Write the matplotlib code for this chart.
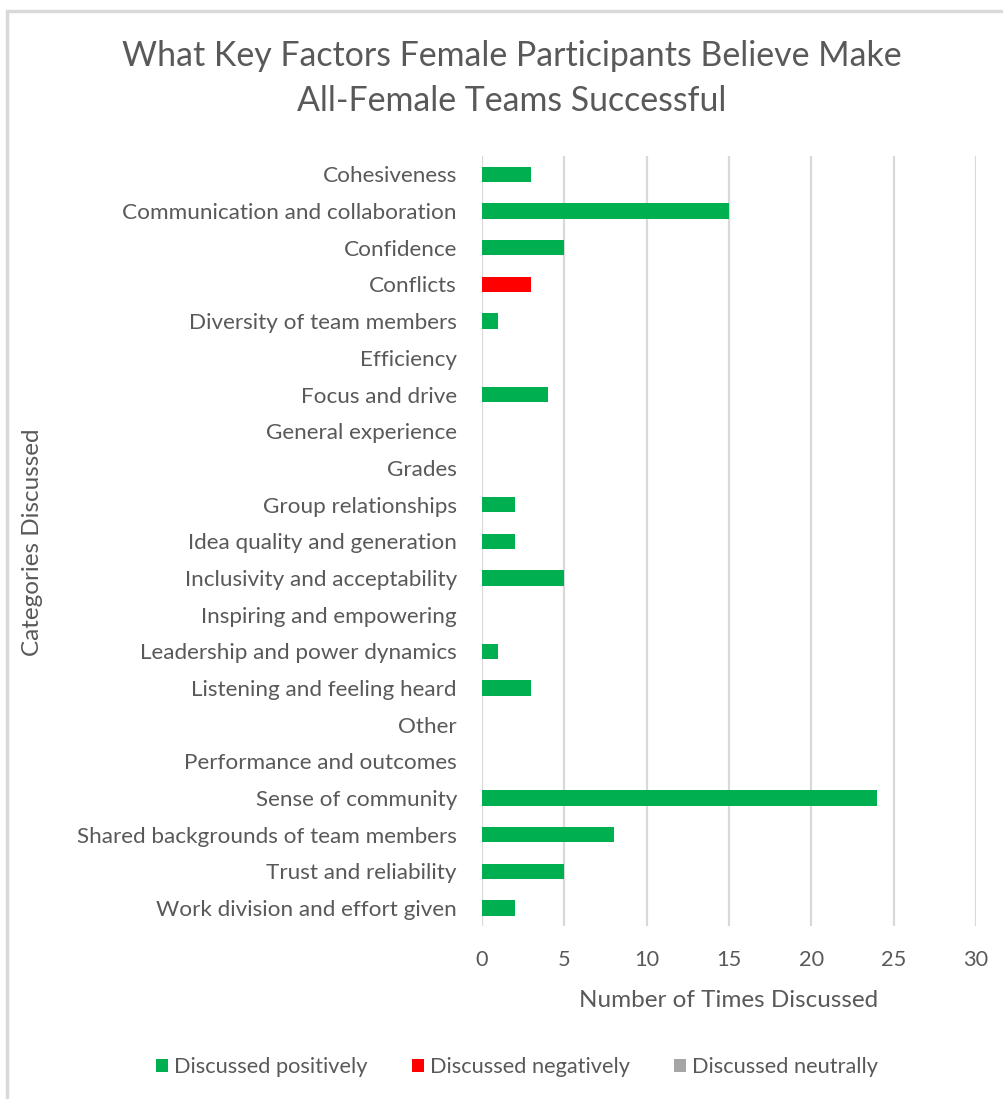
import matplotlib
matplotlib.use("Agg")
import matplotlib.pyplot as plt
import numpy as np

plt.rcParams["font.family"] = ["Lato", "DejaVu Sans"]

# categories, top to bottom
categories = [
    "Cohesiveness",
    "Communication and collaboration",
    "Confidence",
    "Conflicts",
    "Diversity of team members",
    "Efficiency",
    "Focus and drive",
    "General experience",
    "Grades",
    "Group relationships",
    "Idea quality and generation",
    "Inclusivity and acceptability",
    "Inspiring and empowering",
    "Leadership and power dynamics",
    "Listening and feeling heard",
    "Other",
    "Performance and outcomes",
    "Sense of community",
    "Shared backgrounds of team members",
    "Trust and reliability",
    "Work division and effort given",
]
positive = [3, 15, 5, 0, 1, 0, 4, 0, 0, 2, 2, 5, 0, 1, 3, 0, 0, 24, 8, 5, 2]
negative = [0, 0, 0, 3, 0, 0, 0, 0, 0, 0, 0, 0, 0, 0, 0, 0, 0, 0, 0, 0, 0]
neutral = [0] * len(categories)

xticks = [0, 5, 10, 15, 20, 25, 30]

text_col = "#595959"
grid_col = "#D9D9D9"

fig = plt.figure(figsize=(10.04, 10.99), dpi=100)
ax = fig.add_axes([0.480, 0.157, 0.492, 0.701])

y = np.arange(len(categories))
pos = np.array(positive)
neg = np.array(negative)
neu = np.array(neutral)
h = 0.42
ax.barh(y, pos, height=h, color="#00B050", label="Discussed positively", zorder=3)
ax.barh(y, neg, left=pos, height=h, color="#FF0000", label="Discussed negatively", zorder=3)
ax.barh(y, neu, left=pos + neg, height=h, color="#A5A5A5", label="Discussed neutrally", zorder=3)

ax.set_ylim(len(categories) - 0.5, -0.5)
ax.set_xlim(0, 30)
ax.set_xticks(xticks)
ax.set_yticks(y)
ax.set_yticklabels(categories)
ax.tick_params(axis="both", length=0, labelsize=15.7, colors=text_col)
ax.tick_params(axis="x", pad=17)
ax.tick_params(axis="y", pad=18, labelsize=16.2)
for s in ax.spines.values():
    s.set_visible(False)
ax.grid(axis="x", color=grid_col, linewidth=1.6, zorder=0)
ax.set_axisbelow(True)

ax.set_xlabel("Number of Times Discussed", fontsize=17.5, color=text_col, labelpad=14)
fig.text(0.032, 0.507, "Categories Discussed", rotation=90, fontsize=17.5,
         color=text_col, ha="center", va="center")

fig.text(0.51, 0.929, "What Key Factors Female Participants Believe Make\nAll-Female Teams Successful",
         ha="center", va="center", fontsize=24.4, color=text_col, linespacing=1.5)

leg = fig.legend(loc="center", bbox_to_anchor=(0.515, 0.029), ncol=3, frameon=False,
                 fontsize=15.7, handlelength=0.55, handleheight=0.55, handletextpad=0.3,
                 columnspacing=2.0)
for t in leg.get_texts():
    t.set_color(text_col)

# chart border (left and top visible)
fig.add_artist(plt.Rectangle((0.007, -0.05), 1.1, 1.04, transform=fig.transFigure,
                             fill=False, edgecolor=grid_col, linewidth=2.5))

fig.savefig("out.png", dpi=100, facecolor="white")
